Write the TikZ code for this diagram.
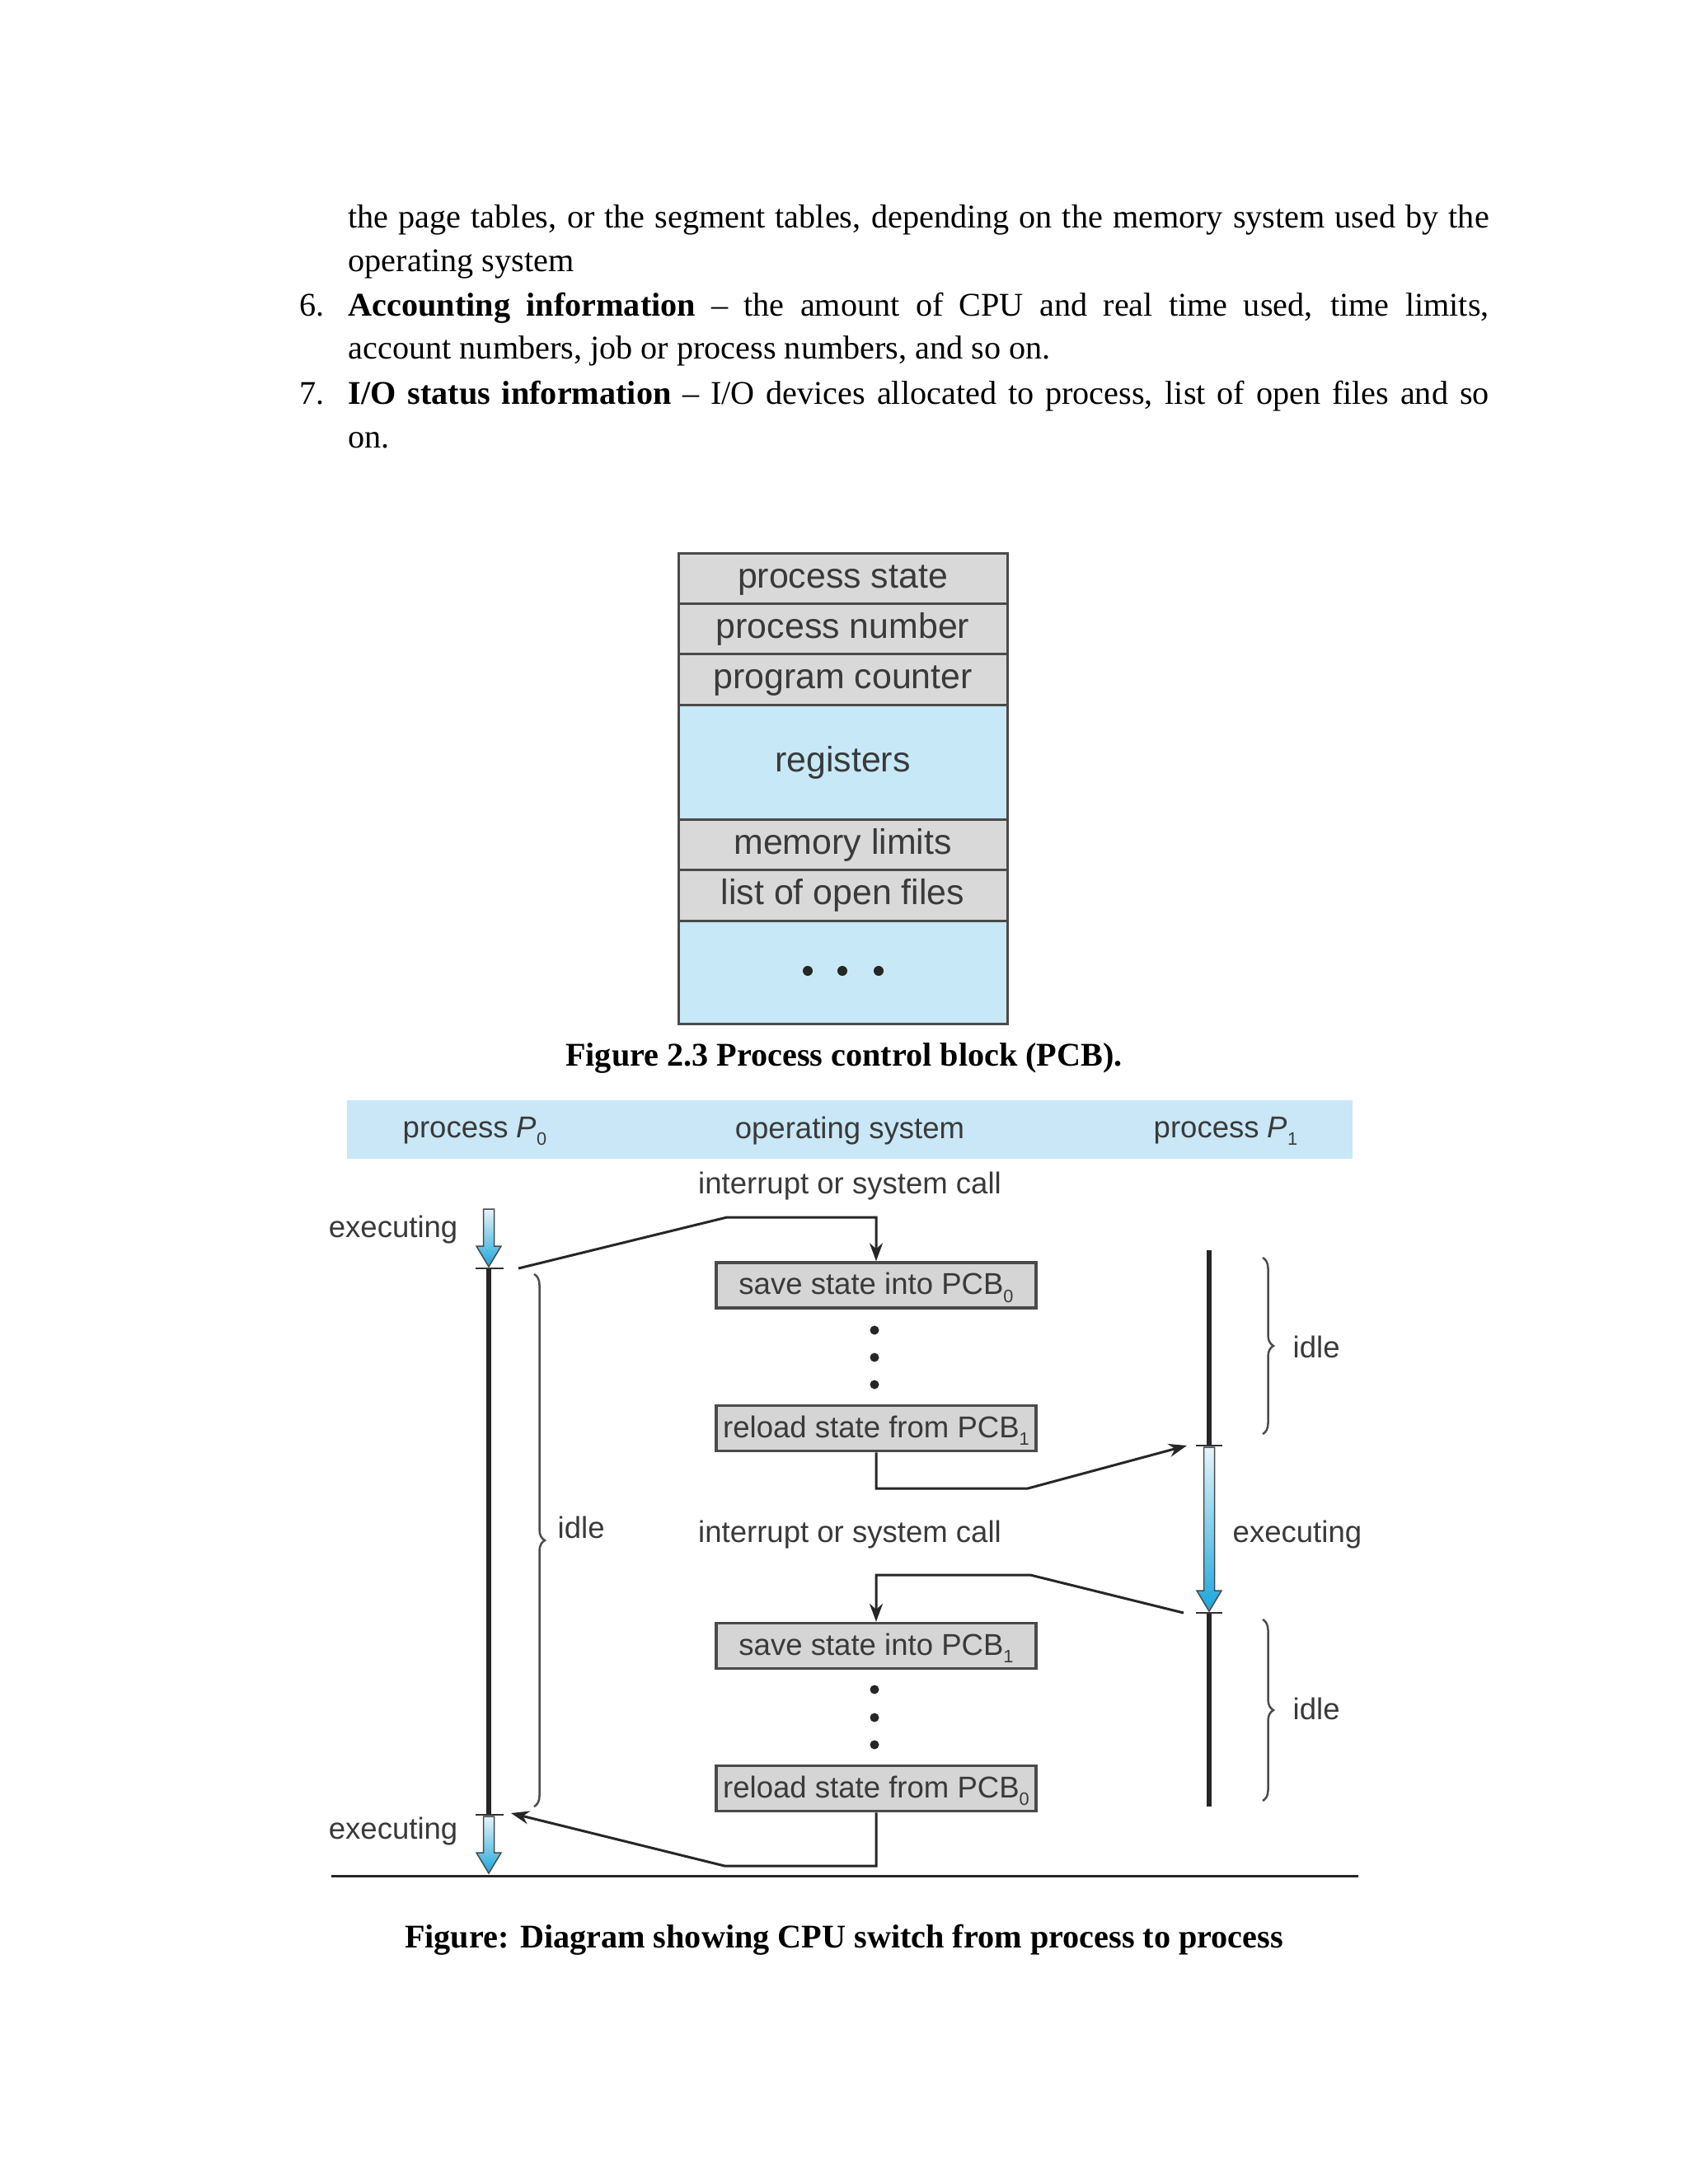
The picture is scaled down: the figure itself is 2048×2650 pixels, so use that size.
\documentclass[tikz,border=0pt]{standalone}
\usepackage{fontspec}
\setmainfont{Liberation Serif}
\newfontfamily\arialf{Liberation Sans}
\usetikzlibrary{arrows.meta,decorations.pathreplacing}
\definecolor{txtgray}{HTML}{3A3A3A}
\definecolor{pcbgray}{HTML}{D9D9D9}
\definecolor{pcbblue}{HTML}{C7E8F7}
\definecolor{bandblue}{HTML}{C9E7F6}
\definecolor{boxgray}{HTML}{D5D5D5}
\definecolor{edgegray}{HTML}{4A4A4A}
\definecolor{arrtop}{HTML}{E6F4FA}
\definecolor{arrbot}{HTML}{1BA6DB}
\newcommand\subidx[1]{\raisebox{-0.5ex}{\fontsize{6.2}{7}\selectfont #1}}
\begin{document}
\begin{tikzpicture}[x=0.1mm,y=-0.1mm,
 body/.style={anchor=base west, inner sep=0pt, font=\fontsize{11.44}{13}\selectfont},
 pcbrow/.style={draw=edgegray, line width=0.3mm, minimum width=39.9mm, inner sep=0pt, text height=1.9ex, text depth=0.44ex, text=txtgray, font=\arialf\fontsize{12.2}{14}\selectfont},
 lbl/.style={inner sep=0pt, yshift=-1pt, text=txtgray, font=\arialf\fontsize{10.4}{12}\selectfont},
 osbox/.style={draw=edgegray, fill=boxgray, line width=0.35mm, minimum width=38.8mm, minimum height=5.5mm, inner sep=0pt, text height=1.8ex, text depth=0.4ex, text=txtgray, font=\arialf\fontsize{10.4}{12}\selectfont},
 conn/.style={line width=0.3mm, draw=black!85},
 connarr/.style={conn, -{Stealth[length=2.2mm,width=1.6mm]}},
 timeline/.style={line width=0.55mm, draw=black!85},
 tickmark/.style={line width=0.2mm, draw=black!80},
 fatarr/.style={top color=arrtop, bottom color=arrbot, draw=edgegray, line width=0.15mm},
 idlebrace/.style={decorate, decoration={brace, amplitude=1.3mm}, draw=gray!60!black, line width=0.25mm},
 pcbdot/.style={circle, fill=black!85, inner sep=0pt, minimum size=1.2mm},
 osdot/.style={circle, fill=black!85, inner sep=0pt, minimum size=1.1mm},
 caption/.style={inner sep=0pt, font=\bfseries\fontsize{11.44}{13}\selectfont}
]
\useasboundingbox (0,0) rectangle (2048,2650);
\fill[white] (0,0) rectangle (2048,2650);

% ---- body text ----
\node[body] (l1) at (422,276) {\makebox[138.4mm][s]{the page tables, or the segment tables, depending on the memory system used by the}};
\node[body] (l2) at (422,329) {operating system};
\node[body] (n6) at (363,383) {6.};
\node[body] (l3) at (422,383) {\makebox[138.4mm][s]{\textbf{Accounting information} -- the amount of CPU and real time used, time limits,}};
\node[body] (l4) at (422,435) {account numbers, job or process numbers, and so on.};
\node[body] (n7) at (363,490) {7.};
\node[body] (l5) at (422,490) {\makebox[138.4mm][s]{\textbf{I/O status information} -- I/O devices allocated to process, list of open files and so}};
\node[body] (l6) at (422,543) {on.};

% ---- PCB ----
\node[pcbrow, fill=pcbgray, minimum height=6.1mm] (r1) at (1022.5,701.5) {process state};
\node[pcbrow, fill=pcbgray, minimum height=6.1mm] (r2) at (1022.5,762.5) {process number};
\node[pcbrow, fill=pcbgray, minimum height=6.2mm] (r3) at (1022.5,824) {program counter};
\node[pcbrow, fill=pcbblue, minimum height=13.9mm] (r4) at (1022.5,924.5) {registers};
\node[pcbrow, fill=pcbgray, minimum height=6.1mm] (r5) at (1022.5,1024.5) {memory limits};
\node[pcbrow, fill=pcbgray, minimum height=6.2mm] (r6) at (1022.5,1086) {list of open files};
\node[pcbrow, fill=pcbblue, minimum height=12.5mm] (r7) at (1022.5,1179.5) {};
\node[pcbdot] (d1) at (980,1178) {};
\node[pcbdot] (d2) at (1022,1178) {};
\node[pcbdot] (d3) at (1066,1178) {};
\node[caption] (cap1) at (1024,1284) {Figure 2.3 Process control block (PCB).};

% ---- CPU switch diagram ----
\node[fill=bandblue, minimum width=122mm, minimum height=7.1mm, inner sep=0pt] (band) at (1031,1370.5) {};
\node[lbl] (hp0) at (576,1369) {process {\itshape P}\subidx{0}};
\node[lbl] (hos) at (1031,1369) {operating system};
\node[lbl] (hp1) at (1487,1369) {process {\itshape P}\subidx{1}};

\node[lbl] (int1) at (1031,1436) {interrupt or system call};
\node[lbl] (int2) at (1031,1859) {interrupt or system call};

\node[lbl, anchor=east] (ex0a) at (556,1489) {executing};
\node[lbl, anchor=east] (ex0b) at (556,2219) {executing};
\node[lbl, anchor=west] (ex1) at (1495,1859) {executing};

\node[osbox] (b1) at (1063,1559.5) {save state into PCB\subidx{0}};
\node[osbox] (b2) at (1063,1733) {reload state from PCB\subidx{1}};
\node[osbox] (b3) at (1063,1997) {save state into PCB\subidx{1}};
\node[osbox] (b4) at (1063,2170) {reload state from PCB\subidx{0}};
\node[osdot] (e1) at (1061,1614) {};
\node[osdot] (e2) at (1061,1647) {};
\node[osdot] (e3) at (1061,1680) {};
\node[osdot] (e4) at (1061,2050) {};
\node[osdot] (e5) at (1061,2084) {};
\node[osdot] (e6) at (1061,2117) {};

% timelines
\coordinate (p0t) at (593,1539);
\coordinate (p0b) at (593,2202);
\coordinate (p1t) at (1467,1517);
\coordinate (p1s) at (1467,1754);
\coordinate (p1e) at (1467,1957);
\coordinate (p1b) at (1467,2192);
\draw[timeline] (p0t) -- (p0b);
\draw[timeline] (p1t) -- (p1s);
\draw[timeline] (p1e) -- (p1b);
\draw[tickmark] (577,1539) -- (611,1539);
\draw[tickmark] (577,2202) -- (611,2202);
\draw[tickmark] (1451,1754) -- (1483,1754);
\draw[tickmark] (1451,1957) -- (1483,1957);

% blue executing arrows
\shadedraw[fatarr] (586.5,1467) -- (599.5,1467) -- (599.5,1512) -- (608,1512) -- (593,1537) -- (578,1512) -- (586.5,1512) -- cycle;
\shadedraw[fatarr] (586.5,2204) -- (599.5,2204) -- (599.5,2248) -- (608,2248) -- (593,2273) -- (578,2248) -- (586.5,2248) -- cycle;
\shadedraw[fatarr] (1460.5,1756) -- (1473.5,1756) -- (1473.5,1930) -- (1482,1930) -- (1467,1955) -- (1452,1930) -- (1460.5,1930) -- cycle;

% braces
\draw[idlebrace] (648,1546) -- (648,2192);
\draw[idlebrace] (1532,1526) -- (1532,1740);
\draw[idlebrace] (1532,1965) -- (1532,2185);
\node[lbl, anchor=west] (idle0) at (676,1850) {idle};
\node[lbl, anchor=west] (idle1) at (1568,1631) {idle};
\node[lbl, anchor=west] (idle2) at (1568,2070) {idle};

% connectors
\coordinate (c1a) at (629,1539);
\coordinate (c1b) at (882,1477);
\draw[connarr] (c1a) -- (c1b) -| (b1.north);
\coordinate (c2a) at (1247,1806);
\coordinate (c2b) at (1440,1754);
\draw[connarr] (b2.south) |- (c2a) -- (c2b);
\coordinate (c3a) at (1436,1957);
\coordinate (c3b) at (1250,1911);
\draw[connarr] (c3a) -- (c3b) -| (b3.north);
\coordinate (c4a) at (879,2264);
\coordinate (c4b) at (620,2200);
\draw[connarr] (b4.south) |- (c4a) -- (c4b);

% ground line
\coordinate (g1) at (402,2276);
\coordinate (g2) at (1648,2276);
\draw[line width=0.3mm, black!85] (g1) -- (g2);

\node[caption] (cap2) at (1024,2354) {Figure: Diagram showing CPU switch from process to process};
\end{tikzpicture}
\end{document}
